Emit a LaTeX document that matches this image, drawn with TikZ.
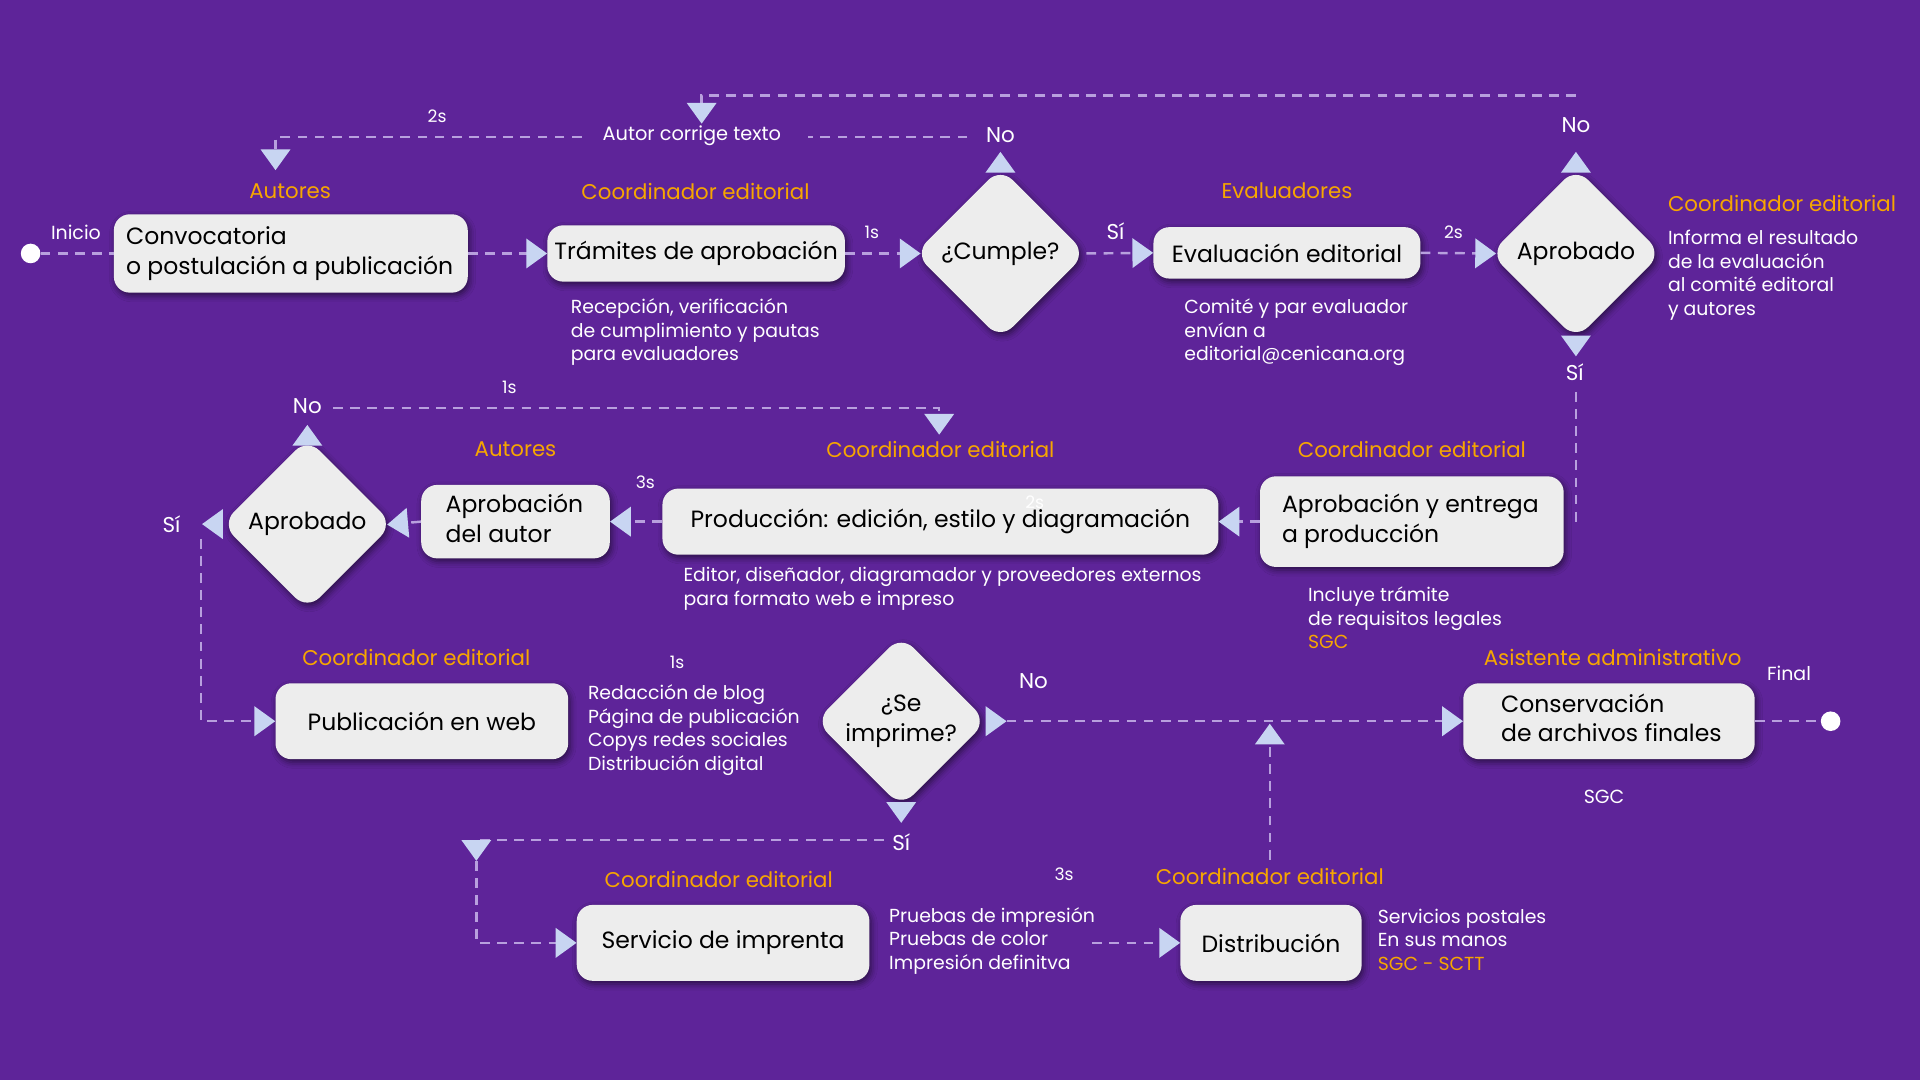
\documentclass[tikz,border=0pt]{standalone}
\usepackage{fontspec}
\setmainfont{Poppins}
\usetikzlibrary{arrows.meta,shapes.geometric,shadows.blur}
\definecolor{bgpurple}{RGB}{94,36,153}
\definecolor{linecol}{RGB}{184,160,222}
\definecolor{rolecol}{RGB}{247,166,0}
\definecolor{boxgray}{RGB}{237,237,237}
\definecolor{arrowblue}{RGB}{200,213,242}
\newcommand\bxfont{\fontsize{19.2}{24}\selectfont}
\newcommand\rlfont{\fontsize{17.4}{20}\selectfont}
\newcommand\ntfont{\fontsize{15.4}{19.2}\selectfont}
\newcommand\edfont{\fontsize{17.5}{20}\selectfont}
\newcommand\tmfont{\fontsize{14}{16}\selectfont}
\newcommand\leftlines[2]{\makebox[#1][l]{\begin{tabular}{@{}l@{}}#2\end{tabular}}}
\tikzset{
  shad/.style={blur shadow={shadow xshift=1.5pt, shadow yshift=-2.5pt, shadow blur radius=5pt, shadow opacity=55}},
  box/.style={rectangle, rounded corners=13pt, fill=boxgray, text=black, font=\bxfont, inner sep=0pt, shad},
  dec/.style={diamond, aspect=1, rounded corners=14pt, minimum width=140pt, minimum height=140pt, inner sep=0pt, fill=boxgray, text=black, font=\bxfont, align=center, shad},
  role/.style={text=rolecol, font=\rlfont, inner sep=0pt},
  note/.style={text=white, font=\ntfont, align=left, anchor=north west, inner sep=0pt},
  elbl/.style={text=white, font=\edfont, inner sep=0pt},
  tlbl/.style={text=white, font=\tmfont, inner sep=0pt},
  dot/.style={circle, fill=white, minimum size=16pt, inner sep=0pt},
  flow/.style={draw=linecol, line width=2pt, dash pattern=on 8pt off 6pt},
  arr/.style={flow, -{Triangle[length=17pt, width=24pt, color=arrowblue]}},
  todec/.style={shorten >=-5pt}
}
\begin{document}
\begin{tikzpicture}[x=1pt,y=-1pt]
\useasboundingbox (0,0) rectangle (1568,882);
\fill[bgpurple] (0,0) rectangle (1568,882);

% ---------- row 1 ----------
\node[dot] (start) at (25,207) {};
\node[tlbl, font=\fontsize{15.5}{18}\selectfont] (inicio) at (62,190) {Inicio};
\node[box, minimum width=289pt, minimum height=64pt, inner xsep=10pt] (conv) at (237.5,207) {\leftlines{269pt}{Convocatoria\\o postulación a publicación}};
\node[role] (r1) at (237,156) {Autores};

\node[box, minimum width=243pt, minimum height=46pt] (tram) at (568.5,207) {Trámites de aprobación};
\node[role] (r2) at (568,156) {Coordinador editorial};
\node[note] (n1) at (466,244) {Recepción, verificación\\de cumplimiento y pautas\\para evaluadores};

\node[dec] (cump) at (817,207) {¿Cumple?};

\node[box, minimum width=218pt, minimum height=42pt] (eval) at (1051,206.5) {Evaluación editorial};
\node[role] (r3) at (1051,156) {Evaluadores};
\node[note] (n2) at (967,244) {Comité y par evaluador\\envían a\\editorial@cenicana.org};

\node[dec] (ap1) at (1287,207) {Aprobado};
\node[role, anchor=west] (r4) at (1362,166) {Coordinador editorial};
\node[note] (n3) at (1362,188) {Informa el resultado\\de la evaluación\\al comité editoral\\y autores};

\draw[flow] (start) -- (conv.west);
\draw[arr] (conv.east) -- (tram.west);
\draw[arr, todec] (tram.east) -- (cump.west);
\node[tlbl] (t1s) at (712,190) {1s};
\draw[arr] (cump.east) -- (eval.west);
\node[elbl] (si1) at (911,189) {Sí};
\draw[arr, todec] (eval.east) -- (ap1.west);
\node[tlbl] (t2s) at (1187,190) {2s};

% top loops
\coordinate (ap1up) at (1287,124);
\draw[arr] (ap1.north) -- (ap1up);
\node[elbl] (no2) at (1287,102) {No};
\coordinate (la) at (1287,78);
\coordinate (lb) at (573,78);
\coordinate (lc) at (573,101);
\draw[arr] (la) -- (lb) -- (lc);
\node[tlbl, font=\fontsize{15.8}{18}\selectfont] (act) at (565,111) {Autor corrige texto};
\coordinate (cumup) at (817,124);
\draw[arr] (cump.north) -- (cumup);
\node[elbl] (no1) at (817,110) {No};
\coordinate (ma) at (790,112);
\coordinate (mb) at (660,112);
\draw[flow] (ma) -- (mb);
\coordinate (na) at (475,112);
\coordinate (nb) at (225,112);
\coordinate (nc) at (225,139);
\draw[arr] (na) -- (nb) -- (nc);
\node[tlbl] (t2s2) at (357,95) {2s};

% ---------- row 2 ----------
\coordinate (ap1dn) at (1287,291);
\draw[arr] (ap1.south) -- (ap1dn);
\node[elbl] (si2) at (1286,304) {Sí};
\coordinate (pa) at (1287,320);
\coordinate (pb) at (1287,428);
\draw[flow] (pa) -- (pb);

\node[box, minimum width=248pt, minimum height=74pt, inner xsep=18pt] (aent) at (1153,426) {\leftlines{212pt}{Aprobación y entrega\\a producción}};
\node[role] (r5) at (1153,367) {Coordinador editorial};
\node[note] (n4) at (1068,479) {Incluye trámite\\de requisitos legales\\\textcolor{rolecol}{SGC}};

\node[box, minimum width=454pt, minimum height=54pt] (prod) at (768,426) {Producción: edición, estilo y diagramación};
\node[role] (r6) at (768,367) {Coordinador editorial};
\node[tlbl, text=white] (stray) at (845,410) {2s};
\node[note] (n5) at (558,463) {Editor, diseñador, diagramador y proveedores externos\\para formato web e impreso};

\node[box, minimum width=154pt, minimum height=60pt, inner xsep=20pt] (aaut) at (421,426) {\leftlines{114pt}{Aprobación\\del autor}};
\node[role] (r7) at (421,367) {Autores};

\node[dec] (ap2) at (251,428) {Aprobado};

\draw[arr] (aent.west) -- (prod.east);
\draw[arr] (prod.west) -- (aaut.east);
\node[tlbl] (t3s) at (527,394) {3s};
\draw[arr, todec] (aaut.west) -- (ap2.east);

\coordinate (ap2up) at (251,347);
\draw[arr] (ap2.north) -- (ap2up);
\node[elbl] (no3) at (251,332) {No};
\coordinate (qa) at (272,333);
\coordinate (qb) at (767,333);
\coordinate (qc) at (767,355);
\draw[arr] (qa) -- (qb) -- (qc);
\node[tlbl] (t1s2) at (416,316) {1s};

\coordinate (ap2lf) at (165,428);
\draw[arr] (ap2.west) -- (ap2lf);
\node[elbl] (si3) at (140,428) {Sí};
\coordinate (ra) at (164,440);
\coordinate (rb) at (164,589);

% ---------- row 3 ----------
\node[box, minimum width=239pt, minimum height=62pt] (pub) at (344.5,589) {Publicación en web};
\node[role] (r8) at (340,537) {Coordinador editorial};
\draw[arr] (ra) -- (rb) -- (pub.west);
\node[tlbl] (t1s3) at (553,541) {1s};
\node[note] (n6) at (480,559) {Redacción de blog\\Página de publicación\\Copys redes sociales\\Distribución digital};

\node[dec] (sei) at (736,589) {¿Se\\imprime?};

\node[box, minimum width=238pt, minimum height=62pt, inner xsep=31pt] (cons) at (1314,589) {\leftlines{176pt}{Conservación\\de archivos finales}};
\node[role] (r9) at (1317,537) {Asistente administrativo};
\node[tlbl, font=\fontsize{15.5}{18}\selectfont] (sgc2) at (1310,651) {SGC};
\node[tlbl, font=\fontsize{15.5}{18}\selectfont] (final) at (1461,550) {Final};
\node[dot] (end) at (1495,589) {};
\draw[flow] (cons.east) -- (end);

\coordinate (seir) at (822,589);
\draw[arr] (sei.east) -- (seir);
\draw[arr] (seir) -- (cons.west);
\node[elbl] (no4) at (844,556) {No};

\coordinate (seid) at (736,672);
\draw[arr] (sei.south) -- (seid);
\node[elbl] (si4) at (736,688) {Sí};
\coordinate (sa) at (722,686);
\coordinate (sb) at (389,686);
\coordinate (sc) at (389,703);
\draw[arr] (sa) -- (sb) -- (sc);

% ---------- row 4 ----------
\node[box, minimum width=239pt, minimum height=62pt] (serv) at (590.5,770) {Servicio de imprenta};
\node[role] (r10) at (587,718) {Coordinador editorial};
\coordinate (ua) at (389,703);
\coordinate (ub) at (389,770);
\draw[arr] (ua) -- (ub) -- (serv.west);
\node[note] (n7) at (726,741) {Pruebas de impresión\\Pruebas de color\\Impresión definitva};
\node[tlbl] (t3s2) at (869,714) {3s};

\node[box, minimum width=148pt, minimum height=62pt] (dist) at (1038,770) {Distribución};
\node[role] (r11) at (1037,716) {Coordinador editorial};
\node[note] (n8) at (1125,742) {Servicios postales\\En sus manos\\\textcolor{rolecol}{SGC - SCTT}};
\coordinate (va) at (892,770);
\draw[arr] (va) -- (dist.west);
\coordinate (wa) at (1037,702);
\coordinate (wb) at (1037,591);
\draw[arr] (wa) -- (wb);
\end{tikzpicture}
\end{document}
